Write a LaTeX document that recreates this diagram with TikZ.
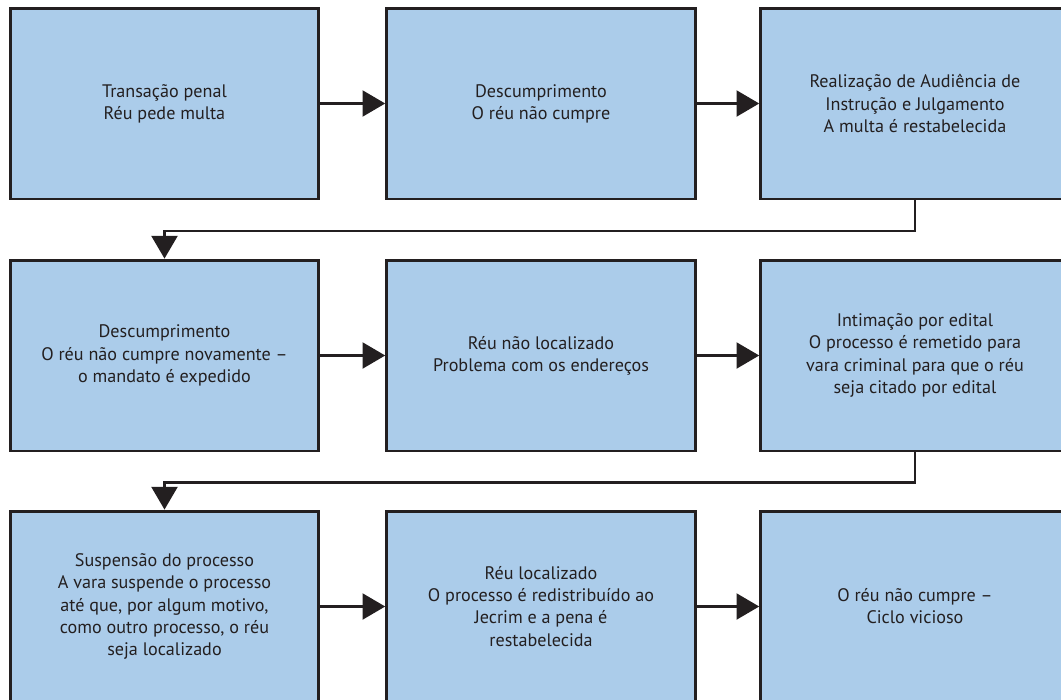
\documentclass[tikz,border=0pt]{standalone}
\usepackage{fontspec}
\setmainfont{PT Sans}
\usetikzlibrary{arrows.meta}
\definecolor{boxblue}{HTML}{ABCCEA}
\definecolor{ink}{HTML}{231F20}
\begin{document}
\begin{tikzpicture}[x=0.75pt,y=-0.75pt,
  stepbox/.style={draw=ink, line width=2.2pt, fill=boxblue, minimum width=231.5pt, minimum height=143.2pt, inner sep=0pt, align=center, font=\fontsize{13.6}{16.6}\selectfont, text=ink},
  conn/.style={draw=ink, line width=1.6pt, -{Triangle[length=17pt,width=19.5pt]}}]
\useasboundingbox (0,0) rectangle (1061,700);
\node[stepbox] (b1) at (164.5,103.5) {Transação penal\\Réu pede multa};
\node[stepbox] (b2) at (541,103.5) {Descumprimento\\O réu não cumpre};
\node[stepbox] (b3) at (915,103.5) {Realização de Audiência de\\Instrução e Julgamento\\A multa é restabelecida};
\node[stepbox] (b4) at (164.5,355.5) {Descumprimento\\O réu não cumpre novamente –\\o mandato é expedido};
\node[stepbox] (b5) at (541,355.5) {Réu não localizado\\Problema com os endereços};
\node[stepbox] (b6) at (915,355.5) {Intimação por edital\\O processo é remetido para\\vara criminal para que o réu\\seja citado por edital};
\node[stepbox] (b7) at (164.5,606.5) {Suspensão do processo\\A vara suspende o processo\\até que, por algum motivo,\\como outro processo, o réu\\seja localizado};
\node[stepbox] (b8) at (541,606.5) {Réu localizado\\O processo é redistribuído ao\\Jecrim e a pena é\\restabelecida};
\node[stepbox] (b9) at (915,606.5) {O réu não cumpre –\\Ciclo vicioso};
\draw[conn] (b1.east) -- (b2.west);
\draw[conn] (b2.east) -- (b3.west);
\draw[conn] (b3.south) -- ++(0,30.5) -| (b4.north);
\draw[conn] (b4.east) -- (b5.west);
\draw[conn] (b5.east) -- (b6.west);
\draw[conn] (b6.south) -- ++(0,30) -| (b7.north);
\draw[conn] (b7.east) -- (b8.west);
\draw[conn] (b8.east) -- (b9.west);
\end{tikzpicture}
\end{document}
